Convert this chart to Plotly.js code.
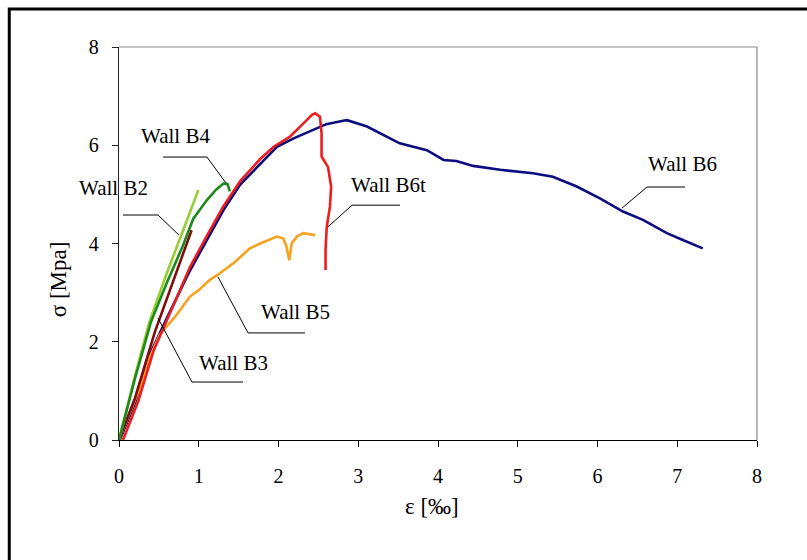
<!DOCTYPE html>
<html>
<head>
<meta charset="utf-8">
<script src="https://cdn.plot.ly/plotly-3.0.1.min.js"></script>
<style>
html,body{margin:0;padding:0;background:#fff;}
#chart{width:807px;height:560px;}
</style>
</head>
<body>
<div id="chart"></div>
<script>
// ---- data (strain in per mille, stress in MPa) ----
const b6x = [0.01,0.2,0.39,0.6,0.89,1.1,1.31,1.52,1.77,1.98,2.19,2.39,2.6,2.81,2.86,3.11,3.52,3.86,4.07,4.23,4.44,4.78,5.19,5.44,5.74,6.03,6.32,6.57,6.87,7.07,7.32];
const b6y = [0,0.75,1.75,2.48,3.45,4.07,4.68,5.2,5.63,5.97,6.14,6.28,6.43,6.5,6.51,6.38,6.04,5.9,5.7,5.68,5.58,5.5,5.43,5.36,5.16,4.92,4.65,4.48,4.21,4.07,3.9];

const b6tx = [0.05,0.24,0.43,0.62,0.89,1.1,1.31,1.52,1.77,1.94,2.14,2.31,2.42,2.46,2.52,2.54,2.54,2.62,2.66,2.645,2.605,2.59,2.59];
const b6ty = [0,0.78,1.8,2.52,3.52,4.15,4.76,5.27,5.72,5.97,6.17,6.44,6.62,6.65,6.58,6.24,5.77,5.56,5.16,4.75,4.34,3.87,3.46];

const b5x = [0,0.1,0.22,0.3,0.39,0.51,0.58,0.7,0.89,1.0,1.14,1.27,1.45,1.64,1.77,1.98,2.06,2.1,2.135,2.165,2.23,2.31,2.46];
const b5y = [0,0.41,0.88,1.22,1.7,2.14,2.28,2.5,2.92,3.05,3.26,3.4,3.62,3.9,4.0,4.14,4.1,3.94,3.66,4.0,4.14,4.21,4.17];

const b4x = [0,0.2,0.4,0.6,0.8,0.93,1.1,1.22,1.31,1.36,1.39];
const b4y = [0,1.25,2.4,3.2,3.95,4.5,4.88,5.1,5.22,5.21,5.06];

const b2x = [0,0.2,0.38,0.6,0.8,0.995];
const b2y = [0,1.3,2.4,3.4,4.25,5.09];

const b3x = [0,0.2,0.45,0.68,0.91];
const b3y = [0,0.85,2.2,3.25,4.27];

const xTicks = [0,1,2,3,4,5,6,7,8];
const yTicks = [0,2,4,6,8];

// labels (paper coordinates) and leader lines (axis coordinates)
const labTexts = ["Wall B4","Wall B2","Wall B3","Wall B5","Wall B6t","Wall B6"];
const labPX = [0.088,-0.009,0.179,0.276,0.423,0.884];
const labPY = [0.774,0.641,0.196,0.326,0.649,0.702];
const leadX = [[0.552,1.103,1.342],[0.05,0.489,0.752],[0.489,0.915,1.555],[1.241,1.618,2.332],[2.621,2.922,3.524],[6.307,6.621,7.097]];
const leadY = [[5.76,5.76,5.23],[4.58,4.58,4.17],[2.48,1.18,1.18],[3.32,2.18,2.18],[4.34,4.78,4.78],[4.72,5.15,5.15]];

// ---- build ----
function tr(x,y,color,w){return {x:x,y:y,type:'scatter',mode:'lines',line:{color:color,width:w},hoverinfo:'skip',showlegend:false};}
const traces = [
  tr(b6x,b6y,'#0c0c80',2.6),
  tr(b5x,b5y,'#f7a21e',2.6),
  tr(b3x,b3y,'#7f0d0d',2.6),
  tr(b2x,b2y,'#9acd32',2.6),
  tr(b4x,b4y,'#1c8a1c',2.6),
  tr(b6tx,b6ty,'#ee1c1c',2.6)
];

const serif = 'Liberation Serif, Times New Roman, serif';
const shapes = [];
// outer frame (left & top visible)
shapes.push({type:'rect',xref:'paper',yref:'paper',x0:-0.172,x1:3,y0:-3,y1:1.097,line:{color:'#000',width:3},layer:'below'});
// top & right plot frame (grey)
shapes.push({type:'line',xref:'paper',yref:'paper',x0:0,x1:1,y0:1,y1:1,line:{color:'#8a8a8a',width:1.2}});
shapes.push({type:'line',xref:'paper',yref:'paper',x0:1,x1:1,y0:0,y1:1,line:{color:'#8a8a8a',width:1.2}});
for(let i=0;i<leadX.length;i++){
  let p='M'+leadX[i][0]+','+leadY[i][0];
  for(let j=1;j<leadX[i].length;j++) p+=' L'+leadX[i][j]+','+leadY[i][j];
  shapes.push({type:'path',xref:'x',yref:'y',path:p,line:{color:'#000',width:1}});
}
const annotations = labTexts.map((t,i)=>({x:labPX[i],y:labPY[i],xref:'paper',yref:'paper',xanchor:'center',yanchor:'middle',text:t,showarrow:false,font:{family:serif,size:21,color:'#000'}}));
annotations.push({xref:'paper',yref:'paper',x:-0.095,y:0.41,xanchor:'center',yanchor:'middle',text:'σ [Mpa]',textangle:-90,showarrow:false,font:{family:serif,size:23,color:'#000'}});
annotations.push({xref:'paper',yref:'paper',x:0.49,y:-0.17,xanchor:'center',yanchor:'middle',text:'ε [‰]',showarrow:false,font:{family:serif,size:23,color:'#000'}});

const layout = {
  width:807,height:560,
  margin:{l:119,r:50,t:47,b:120},
  paper_bgcolor:'#fff',plot_bgcolor:'#fff',
  xaxis:{range:[0,8],tickvals:xTicks,ticktext:xTicks.map(String),showgrid:false,zeroline:false,
    showline:true,linecolor:'#000',linewidth:1.2,ticks:'outside',ticklen:6,tickcolor:'#000',
    ticklabelstandoff:12,tickfont:{family:serif,size:20,color:'#000'}},
  yaxis:{range:[0,8],tickvals:yTicks,ticktext:yTicks.map(String),showgrid:false,zeroline:false,
    showline:true,linecolor:'#222',linewidth:1.2,ticks:'outside',ticklen:6,tickcolor:'#222',
    ticklabelstandoff:9,tickfont:{family:serif,size:20,color:'#000'}},
  shapes:shapes,
  annotations:annotations,
  showlegend:false
};
Plotly.newPlot('chart',traces,layout,{staticPlot:true,displayModeBar:false});
</script>
</body>
</html>
